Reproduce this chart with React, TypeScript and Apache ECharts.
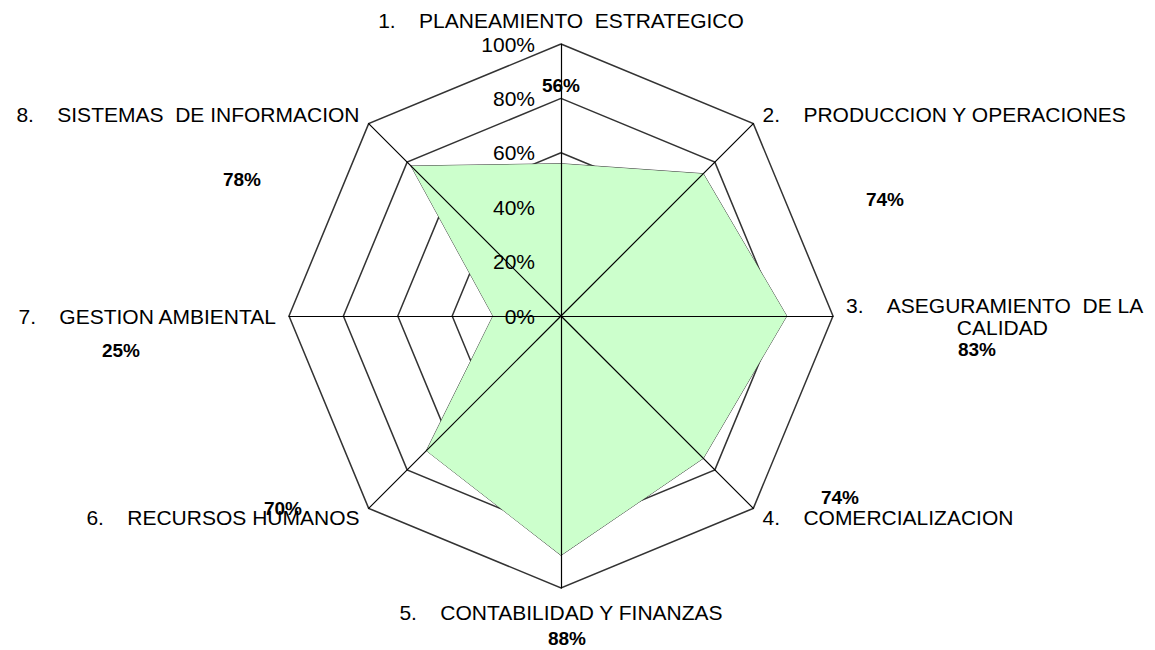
import React, { useEffect, useRef } from 'react';
import * as echarts from 'echarts';

const S = '\u00a0';
const categories = [
  `1.${S}${S}${S}${S}PLANEAMIENTO${S}${S}ESTRATEGICO`,
  `2.${S}${S}${S}${S}PRODUCCION Y OPERACIONES`,
  `3.${S}${S}${S}${S}ASEGURAMIENTO${S}${S}DE LA\n${S.repeat(19)}CALIDAD`,
  `4.${S}${S}${S}${S}COMERCIALIZACION`,
  `5.${S}${S}${S}${S}CONTABILIDAD Y FINANZAS`,
  `6.${S}${S}${S}${S}RECURSOS HUMANOS`,
  `7.${S}${S}${S}${S}GESTION AMBIENTAL`,
  `8.${S}${S}${S}${S}SISTEMAS${S}${S}DE INFORMACION`,
];
const values = [56, 74, 83, 74, 88, 70, 25, 78];
const axisMin = 0;
const axisMax = 100;
const splitCount = 5;

// label anchor positions (layout only)
const valueLabelPos = [
  [561, 85], [885, 199], [977, 349], [840, 497],
  [567, 638], [283, 508], [121, 350], [242, 179],
];

// ECharts lays indicators counter-clockwise; reorder to get clockwise
const order = [0, 7, 6, 5, 4, 3, 2, 1];

const FONT = '"Liberation Sans", Arial, sans-serif';

export default function App() {
  const ref = useRef<HTMLDivElement>(null);
  useEffect(() => {
    if (!ref.current) return;
    const chart = echarts.init(ref.current, null, { renderer: 'svg' });
    const indicatorsBase = order.map((i) => ({ name: categories[i], min: axisMin, max: axisMax }));
    const indicatorsTop = order.map((i, k) => ({
      name: categories[i],
      min: axisMin,
      max: axisMax,
      ...(k === 0
        ? {
            axisLabel: {
              show: true,
              formatter: '{value}%',
              color: '#000',
              fontSize: 21,
              fontFamily: FONT,
              margin: 26,
            },
          }
        : {}),
    }));
    const center = [561, 316];
    const radius = 272;
    chart.setOption({
      animation: false,
      backgroundColor: '#fff',
      radar: [
        {
          z: 0,
          center,
          radius,
          shape: 'polygon',
          splitNumber: splitCount,
          startAngle: 90,
          indicator: indicatorsBase,
          axisName: { show: false },
          axisLine: { show: false },
          axisTick: { show: false },
          axisLabel: { show: false },
          splitArea: { show: false },
          splitLine: { show: true, lineStyle: { color: '#333', width: 1.5 } },
        },
        {
          z: 5,
          center,
          radius,
          shape: 'polygon',
          splitNumber: splitCount,
          startAngle: 90,
          indicator: indicatorsTop,
          nameGap: 13,
          axisName: {
            show: true,
            color: '#000',
            fontSize: 21,
            lineHeight: 22,
            fontFamily: FONT,
          },
          axisLine: { show: true, lineStyle: { color: '#000', width: 1.2 } },
          axisTick: { show: false },
          axisLabel: { show: false },
          splitArea: { show: false },
          splitLine: { show: false },
        },
      ],
      series: [
        {
          type: 'radar',
          radarIndex: 0,
          z: 2,
          symbol: 'none',
          lineStyle: { color: '#404040', width: 1 },
          areaStyle: { color: '#ccffcc', opacity: 1 },
          data: [{ value: order.map((i) => values[i]) }],
        },
      ],
      graphic: values.map((v, i) => ({
        type: 'text',
        x: valueLabelPos[i][0],
        y: valueLabelPos[i][1],
        z: 10,
        style: {
          text: `${v}%`,
          fill: '#000',
          font: `bold 19px ${FONT}`,
          textAlign: 'center',
          textVerticalAlign: 'middle',
        },
      })),
    });
    return () => chart.dispose();
  }, []);
  return (
    <div
      ref={ref}
      style={{ position: 'absolute', left: 0, top: 0, width: 1155, height: 650 }}
    />
  );
}
